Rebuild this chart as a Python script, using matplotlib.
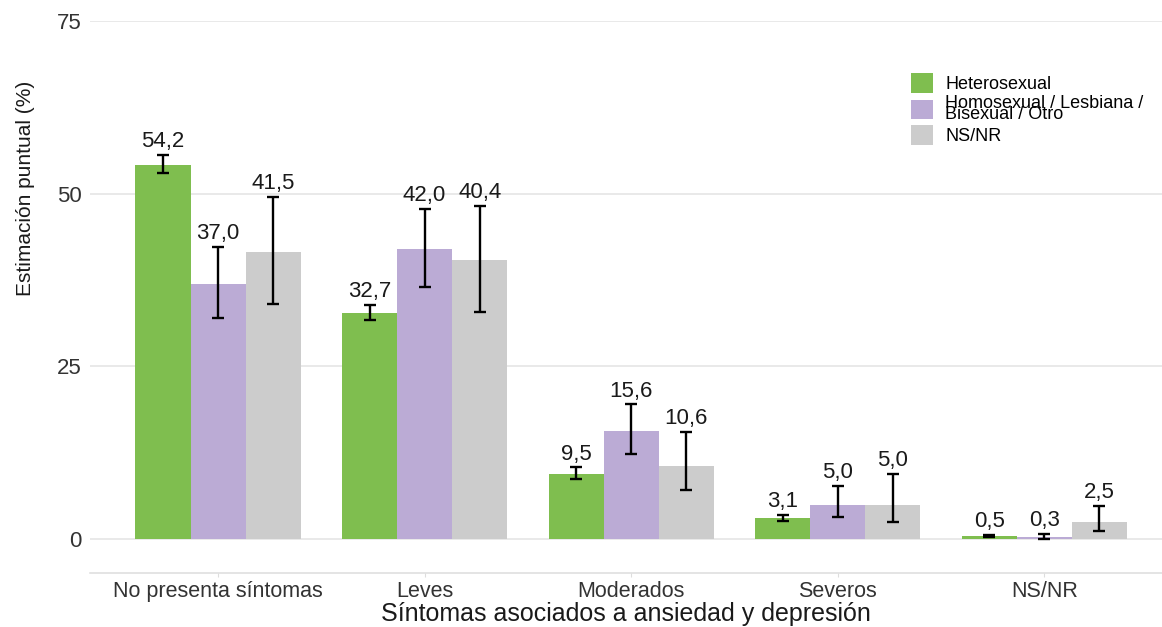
import matplotlib.pyplot as plt
import numpy as np

plt.rcParams['font.family'] = ['Liberation Sans', 'DejaVu Sans']

categorias = ['No presenta síntomas', 'Leves', 'Moderados', 'Severos', 'NS/NR']
grupos = ['Heterosexual', 'Homosexual / Lesbiana /\nBisexual / Otro', 'NS/NR']
colores = ['#7FBE4F', '#BBABD5', '#CCCCCC']

# estimaciones puntuales (%)
hetero = [54.2, 32.7, 9.5, 3.1, 0.5]
homo = [37.0, 42.0, 15.6, 5.0, 0.3]
nsnr = [41.5, 40.4, 10.6, 5.0, 2.5]

# intervalos de confianza (inferior, superior)
hetero_lo = [53.0, 31.7, 8.7, 2.6, 0.25]
hetero_hi = [55.6, 33.9, 10.4, 3.5, 0.65]
homo_lo = [32.0, 36.5, 12.3, 3.2, 0.05]
homo_hi = [42.3, 47.8, 19.5, 7.7, 0.8]
nsnr_lo = [34.0, 32.9, 7.1, 2.5, 1.2]
nsnr_hi = [49.5, 48.2, 15.5, 9.4, 4.8]

valores = [hetero, homo, nsnr]
inferior = [hetero_lo, homo_lo, nsnr_lo]
superior = [hetero_hi, homo_hi, nsnr_hi]

fig = plt.figure(figsize=(11.62, 6.27), dpi=100)
ax = fig.add_axes([90/1162, 54/627, 1072/1162, 552/627])

x = np.arange(len(categorias))
ancho = 0.8 / 3
for i in range(3):
    pos = x + (i - 1) * ancho
    v = np.array(valores[i])
    lo = np.array(inferior[i])
    hi = np.array(superior[i])
    ax.bar(pos, v, width=ancho, color=colores[i], label=grupos[i], zorder=2)
    ax.errorbar(pos, v, yerr=[v - lo, hi - v], fmt='none', ecolor='black',
                elinewidth=1.7, capsize=4, capthick=1.7, zorder=3)
    for p, val, h in zip(pos, v, hi):
        ax.annotate(('%.1f' % val).replace('.', ','), (p, h), xytext=(0, 2),
                    textcoords='offset points', ha='center', va='bottom',
                    fontsize=16, color='#1a1a1a')

ax.set_xlim(-0.62, 4.57)
ax.set_ylim(-4.9, 75)
ax.set_yticks([0, 25, 50, 75])
ax.set_xticks(x)
ax.set_xticklabels(categorias)
ax.grid(axis='y', color='#E3E3E3', linewidth=1.1, zorder=0)
ax.set_axisbelow(True)
for s in ['top', 'right', 'left']:
    ax.spines[s].set_visible(False)
ax.spines['bottom'].set_color('#DDDDDD')
ax.spines['bottom'].set_linewidth(1.1)
ax.tick_params(axis='y', length=0, labelsize=16, labelcolor='#333333', pad=6)
ax.tick_params(axis='x', length=3, color='#DDDDDD', labelsize=15.5,
               labelcolor='#333333', pad=3)

ax.set_ylabel('Estimación puntual (%)', fontsize=15, color='#1a1a1a')
ax.yaxis.set_label_coords(-0.0513, 0.697)
ax.set_xlabel('Síntomas asociados a ansiedad y depresión', fontsize=18,
              color='#1a1a1a', labelpad=0)

leg = ax.legend(loc='upper left', bbox_to_anchor=(911/1162, 1 - 73/627),
                bbox_transform=fig.transFigure, frameon=False, fontsize=13,
                handlelength=1.2, handleheight=1.3, labelspacing=0.1,
                handletextpad=0.7, borderaxespad=0, borderpad=0)
for t in leg.get_texts():
    t.set_linespacing(0.6)

fig.savefig('out.png', dpi=100)
